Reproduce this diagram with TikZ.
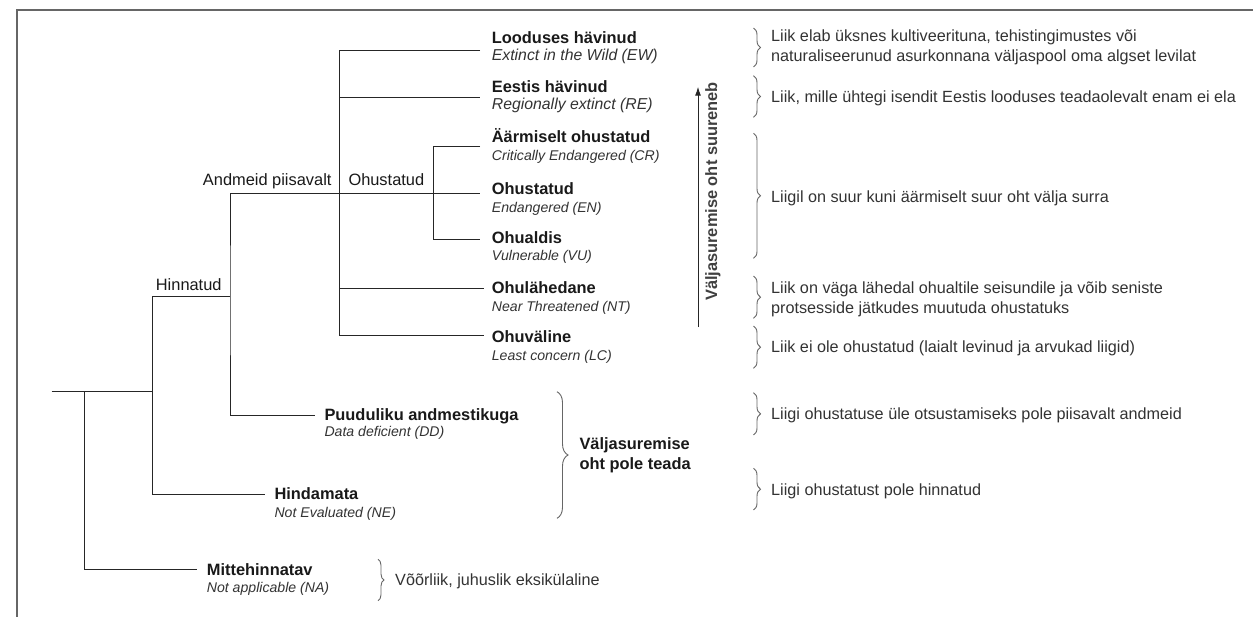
\documentclass[tikz,border=0pt]{standalone}
\usepackage{fontspec}
\setmainfont{Liberation Sans}
\usetikzlibrary{decorations.pathreplacing,arrows.meta}
\begin{document}
\begin{tikzpicture}[x=1pt,y=-1pt,
  tree/.style={draw=black!85, line width=1pt},
  frame/.style={draw=black!60, line width=1.6pt},
  brc/.style={draw=black!60, line width=0.9pt, decorate, decoration={brace,amplitude=#1}},
  brc/.default=7pt,
  cat/.style={anchor=base west, inner sep=0pt, font=\fontsize{16.4}{19}\selectfont\bfseries, text=black!90},
  eng/.style={anchor=base west, inner sep=0pt, font=\fontsize{14.1}{17}\selectfont\itshape, text=black!80},
  engbig/.style={eng, font=\fontsize{15.8}{18}\selectfont\itshape},
  desc/.style={anchor=base west, inner sep=0pt, font=\fontsize{16.2}{19.5}\selectfont, text=black!80},
  grp/.style={inner sep=0pt, font=\fontsize{16.4}{19}\selectfont, text=black!90},
  riskarrow/.style={draw=black!85, line width=1pt, -{Latex[length=9pt,width=6pt]}},
]
\useasboundingbox (0,0) rectangle (1253,616);
\clip (0,0) rectangle (1253,616);
\fill[white] (0,0) rectangle (1253,616);
\draw[frame] (17,640) -- (17,10) -- (1280,10);

% ---------- tree junctions ----------
\coordinate (root) at (51.7,391.7);
\coordinate (rj)   at (84.3,391.7);
\coordinate (hj)   at (152.3,391.7);
\coordinate (andj) at (230,296.3);
\coordinate (ohj)  at (339.3,193);
\coordinate (rej)  at (339.3,97.7);
\coordinate (ntj)  at (339.3,288.3);
\coordinate (inj)  at (433.3,193);
% branch ends
\coordinate (ewEnd) at (480,50.3);
\coordinate (reEnd) at (480,97.7);
\coordinate (crEnd) at (480,146.5);
\coordinate (enEnd) at (480,193);
\coordinate (vuEnd) at (480,239.7);
\coordinate (ntEnd) at (484,288.3);
\coordinate (lcEnd) at (484,335.7);
\coordinate (ddEnd) at (315,415);
\coordinate (neEnd) at (265,494.3);
\coordinate (naEnd) at (196.7,569.3);

\draw[tree] (root) -- (hj);
\draw[tree] (rj) |- (naEnd);
\draw[tree] (andj) -| (hj) |- (neEnd);
\draw[tree] (ohj) -| (andj) |- (ddEnd);
\draw[tree] (ewEnd) -| (ohj) |- (lcEnd);
\draw[tree] (ohj) -- (enEnd);
\draw[tree] (rej) -- (reEnd);
\draw[tree] (ntj) -- (ntEnd);
\draw[tree] (crEnd) -| (inj) |- (vuEnd);

% ---------- branch labels ----------
\node[grp, anchor=base east] (andm) at (331.7,185.5) {Andmeid piisavalt};
\node[grp, anchor=base west] (hinn) at (155.7,290) {Hinnatud};
\node[grp, anchor=base west] (ohus) at (348.3,185.5) {Ohustatud};

% ---------- categories ----------
\node[cat] (ew)  at (491.7,43)    {Looduses hävinud};
\node[engbig] (ewE) at (491.7,60.7) {Extinct in the Wild (EW)};
\node[cat] (re)  at (491.7,92)    {Eestis hävinud};
\node[engbig] (reE) at (491.7,109.3) {Regionally extinct (RE)};
\node[cat] (cr)  at (491.7,142.5) {Äärmiselt ohustatud};
\node[eng] (crE) at (491.7,160.3) {Critically Endangered (CR)};
\node[cat] (en)  at (491.7,194.3) {Ohustatud};
\node[eng] (enE) at (491.7,212)   {Endangered (EN)};
\node[cat] (vu)  at (491.7,243)   {Ohualdis};
\node[eng] (vuE) at (491.7,260.7) {Vulnerable (VU)};
\node[cat] (nt)  at (491.7,293.3) {Ohulähedane};
\node[eng] (ntE) at (491.7,311)   {Near Threatened (NT)};
\node[cat] (lc)  at (491.7,342.3) {Ohuväline};
\node[eng] (lcE) at (491.7,360)   {Least concern (LC)};
\node[cat] (dd)  at (324.3,420)   {Puuduliku andmestikuga};
\node[eng] (ddE) at (324.3,436.7) {Data deficient (DD)};
\node[cat] (ne)  at (274.3,499.3) {Hindamata};
\node[eng] (neE) at (274.3,517.3) {Not Evaluated (NE)};
\node[cat] (na)  at (206.7,575)   {Mittehinnatav};
\node[eng] (naE) at (206.7,592.7) {Not applicable (NA)};

% ---------- risk arrow ----------
\coordinate (arB) at (698,327);
\coordinate (arT) at (698,86.7);
\draw[riskarrow] (arB) -- (arT);
\node[rotate=90, inner sep=0pt, font=\fontsize{16.4}{19}\selectfont\bfseries, text=black!75] (risk) at (713,191.5) {Väljasuremise oht suureneb};

% ---------- unknown-risk group ----------
\draw[brc=11pt] (557,391.7) -- (557,518.3);
\node[cat] (unk1) at (579.3,449.3) {Väljasuremise};
\node[cat] (unk2) at (579.3,469.3) {oht pole teada};

% ---------- descriptions ----------
\draw[brc] (753.5,28) -- (753.5,67);
\draw[brc] (753.5,75.7) -- (753.5,117.3);
\draw[brc] (753.5,133.3) -- (753.5,258.3);
\draw[brc] (753.5,276) -- (753.5,318.3);
\draw[brc] (753.5,326) -- (753.5,368.3);
\draw[brc] (753.5,392.7) -- (753.5,435);
\draw[brc] (753.5,468.3) -- (753.5,510);
\draw[brc=6pt] (378,559.3) -- (378,600.7);

\node[desc] (d1a) at (771,41.5)  {Liik elab üksnes kultiveerituna, tehistingimustes või};
\node[desc] (d1b) at (771,61)    {naturaliseerunud asurkonnana väljaspool oma algset levilat};
\node[desc] (d2)  at (771,102)   {Liik, mille ühtegi isendit Eestis looduses teadaolevalt enam ei ela};
\node[desc] (d3)  at (771,202.5) {Liigil on suur kuni äärmiselt suur oht välja surra};
\node[desc] (d4a) at (771,293.3) {Liik on väga lähedal ohualtile seisundile ja võib seniste};
\node[desc] (d4b) at (771,313)   {protsesside jätkudes muutuda ohustatuks};
\node[desc] (d5)  at (771,352.5) {Liik ei ole ohustatud (laialt levinud ja arvukad liigid)};
\node[desc] (d6)  at (771,419.3) {Liigi ohustatuse üle otsustamiseks pole piisavalt andmeid};
\node[desc] (d7)  at (771,495)   {Liigi ohustatust pole hinnatud};
\node[desc] (d8)  at (395,585)   {Võõrliik, juhuslik eksikülaline};
\end{tikzpicture}
\end{document}
